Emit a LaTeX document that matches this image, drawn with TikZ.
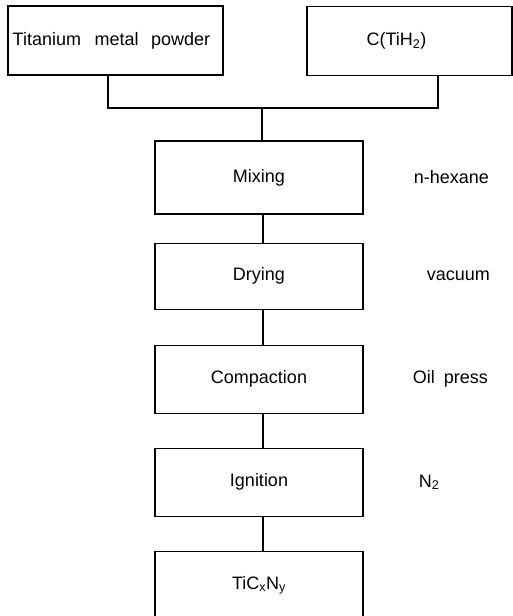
\documentclass[tikz,border=0pt]{standalone}
\usepackage{fontspec}
\setmainfont{Liberation Sans}
\usetikzlibrary{positioning}
\tikzstyle{BasicBox}  = [rectangle, draw=black, line width=1.1pt, inner sep=0pt, text centered, font=\fontsize{18}{21}\selectfont]
\tikzstyle{StepBox}   = [BasicBox, minimum width=208pt, minimum height=68pt]
\tikzstyle{SourceBox} = [BasicBox, minimum height=69pt]
\tikzstyle{Note}      = [inner sep=0pt, font=\fontsize{18}{21}\selectfont]
\tikzstyle{Link}      = [draw=black, line width=1.1pt]

\begin{document}
\begin{tikzpicture}[x=1pt, y=-1pt]
\useasboundingbox (0,0) rectangle (513,616);

%% ------------------------------------------------------- [ Starting powders ]
\node (titanium) [SourceBox, minimum width = 215pt] at (115.5,40.5)
      {Titanium\hspace{0.75em}metal\hspace{0.7em}powder\hspace*{8pt}};
\node (ctih) [SourceBox, minimum width = 205pt] at (409.5,41)
      {C(TiH\textsubscript{2})\hspace*{26pt}};
\coordinate (join) at (262,108);

%% ---------------------------------------------------------------- [ Process ]
\node (mixing) [StepBox, minimum height = 73pt] at (259,177.5) {Mixing};
\node (drying) [StepBox, minimum height = 66pt,
                below = 28pt of mixing] {Drying};
\node (compaction) [StepBox,
                    below = 35pt of drying] {Compaction};
\node (ignition) [StepBox,
                  below = 34pt of compaction] {Ignition};
\node (ticn) [StepBox,
              below = 34pt of ignition] {TiC\textsubscript{x}N\textsubscript{y}};

%% ------------------------------------------------------------- [ Conditions ]
\node (hexane) [Note, right = 50pt of mixing] {n-hexane};
\node (vacuum) [Note, right = 63pt of drying] {vacuum};
\node (press) [Note, right = 49pt of compaction] {Oil\hspace{0.5em}press};
\node (nitrogen) [Note, right = 55pt of ignition] {N\textsubscript{2}};

%% ------------------------------------------------------------- [ Connectors ]
\draw [Link] ([xshift=-7.5pt]titanium.south) |- (join)
             -| ([xshift=28.5pt]ctih.south);
\draw [Link] (join) -- (join |- mixing.north);
\draw [Link] ([xshift=4pt]mixing.south) -- ([xshift=4pt]drying.north);
\draw [Link] ([xshift=4pt]drying.south) -- ([xshift=4pt]compaction.north);
\draw [Link] ([xshift=4pt]compaction.south) -- ([xshift=4pt]ignition.north);
\draw [Link] ([xshift=4pt]ignition.south) -- ([xshift=4pt]ticn.north);
\end{tikzpicture}
\end{document}
